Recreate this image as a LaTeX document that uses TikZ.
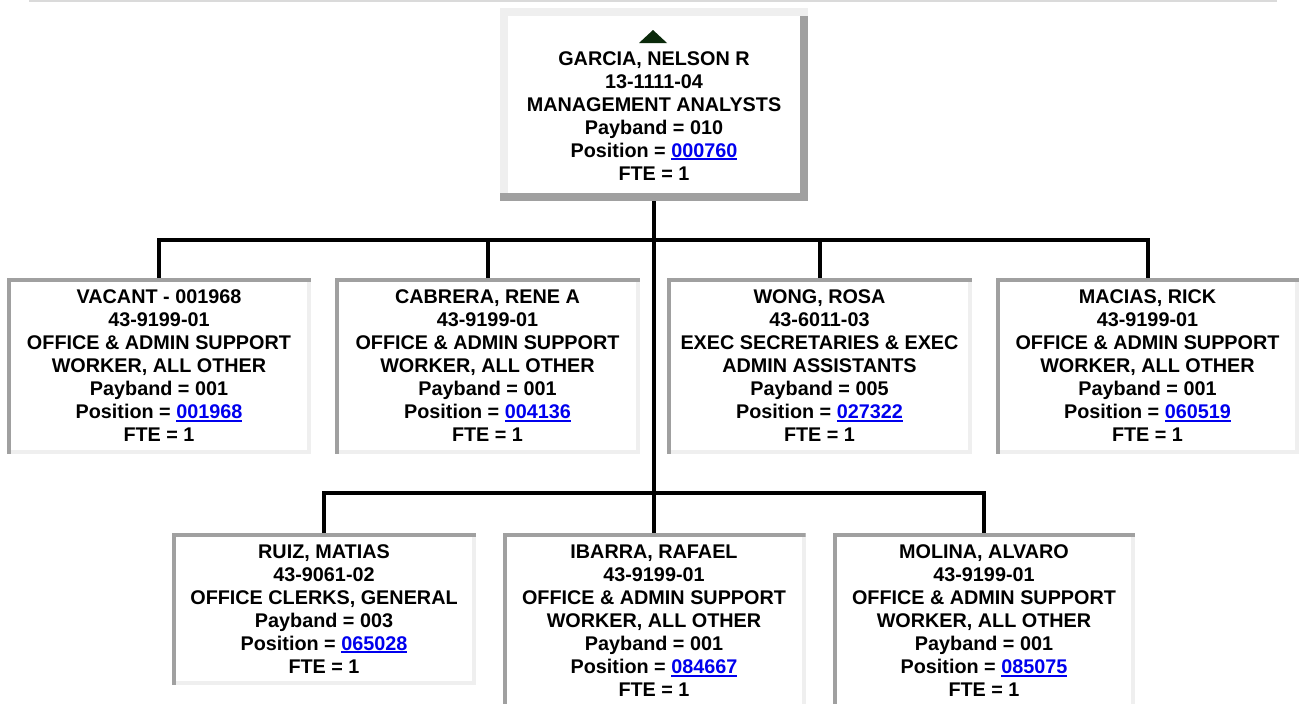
\documentclass[tikz,border=0pt]{standalone}
\usepackage{fontspec}
\setmainfont{Liberation Sans}
\definecolor{frdark}{HTML}{A0A0A0}
\definecolor{frlight}{HTML}{EFEFEF}
\definecolor{topline}{HTML}{DADADA}
\definecolor{linkblue}{HTML}{0000EE}
\definecolor{tricol}{HTML}{0B2A0B}
\newcommand\poslink[1]{\textcolor{linkblue}{\setbox0\hbox{#1}\rlap{\rule[-3pt]{\wd0}{2pt}}\box0}}
\tikzset{
  boxfont/.style={font=\fontsize{19.8}{23}\selectfont\bfseries},
  lowbox/.style={rectangle, inner sep=0pt, outer sep=0pt, fill=frlight,
    minimum height=176pt, align=center, boxfont,
    path picture={
      \fill[frdark] (path picture bounding box.north west) rectangle ([yshift=-4pt]path picture bounding box.north east);
      \fill[frdark] (path picture bounding box.north west) rectangle ([xshift=4pt]path picture bounding box.south west);
      \fill[white] ([shift={(4pt,-4pt)}]path picture bounding box.north west) rectangle ([shift={(-4pt,4pt)}]path picture bounding box.south east);
    }},
  topbox/.style={rectangle, inner sep=0pt, outer sep=0pt, fill=frdark,
    minimum width=308pt, minimum height=193pt, align=center, boxfont,
    path picture={
      \fill[frlight] (path picture bounding box.north west) rectangle ([yshift=-8pt]path picture bounding box.north east);
      \fill[frlight] (path picture bounding box.north west) rectangle ([shift={(8pt,8pt)}]path picture bounding box.south west);
      \fill[white] ([shift={(8pt,-8pt)}]path picture bounding box.north west) rectangle ([shift={(-8pt,8pt)}]path picture bounding box.south east);
    }},
  conn/.style={line width=4pt, black, line join=miter},
}
\begin{document}
\begin{tikzpicture}[x=1pt, y=-1pt]
\useasboundingbox[fill=white] (0,0) rectangle (1299,704);
\draw[topline, line width=1.5pt] (29,0.75) -- (1277,0.75);

% top box
\node[topbox] (top) at (654,104.5) {\vphantom{A}\\GARCIA, NELSON R\\13-1111-04\\MANAGEMENT ANALYSTS\\Payband = 010\\Position = \poslink{000760}\\FTE = 1};
\fill[tricol] ([shift={(-15pt,-35pt)}]top.north) -- ([shift={(-1pt,-22pt)}]top.north) -- ([shift={(13pt,-35pt)}]top.north) -- cycle;

% first row
\node[lowbox, minimum width=304pt] (vac) at (159,366) {VACANT - 001968\\43-9199-01\\OFFICE \& ADMIN SUPPORT\\WORKER, ALL OTHER\\Payband = 001\\Position = \poslink{001968}\\FTE = 1};
\node[lowbox, minimum width=305pt] (cab) at (487.5,366) {CABRERA, RENE A\\43-9199-01\\OFFICE \& ADMIN SUPPORT\\WORKER, ALL OTHER\\Payband = 001\\Position = \poslink{004136}\\FTE = 1};
\node[lowbox, minimum width=305pt] (wong) at (819.5,366) {WONG, ROSA\\43-6011-03\\EXEC SECRETARIES \& EXEC\\ADMIN ASSISTANTS\\Payband = 005\\Position = \poslink{027322}\\FTE = 1};
\node[lowbox, minimum width=303pt] (mac) at (1147.5,366) {MACIAS, RICK\\43-9199-01\\OFFICE \& ADMIN SUPPORT\\WORKER, ALL OTHER\\Payband = 001\\Position = \poslink{060519}\\FTE = 1};

% second row
\node[lowbox, minimum width=304pt, minimum height=152pt] (ruiz) at (324,609) {RUIZ, MATIAS\\43-9061-02\\OFFICE CLERKS, GENERAL\\Payband = 003\\Position = \poslink{065028}\\FTE = 1};
\node[lowbox, minimum width=303pt] (iba) at (654,621) {IBARRA, RAFAEL\\43-9199-01\\OFFICE \& ADMIN SUPPORT\\WORKER, ALL OTHER\\Payband = 001\\Position = \poslink{084667}\\FTE = 1};
\node[lowbox, minimum width=302pt] (mol) at (984,621) {MOLINA, ALVARO\\43-9199-01\\OFFICE \& ADMIN SUPPORT\\WORKER, ALL OTHER\\Payband = 001\\Position = \poslink{085075}\\FTE = 1};

% connectors
\coordinate (bus1) at (654,240);
\coordinate (bus2) at (654,493);
\draw[conn] (top.south) -- (iba.north);
\draw[conn] (vac.north) |- (bus1) -| (mac.north);
\draw[conn] (cab.north) -- (cab.north |- bus1);
\draw[conn] (wong.north) -- (wong.north |- bus1);
\draw[conn] (ruiz.north) |- (bus2) -| (mol.north);
\end{tikzpicture}
\end{document}
